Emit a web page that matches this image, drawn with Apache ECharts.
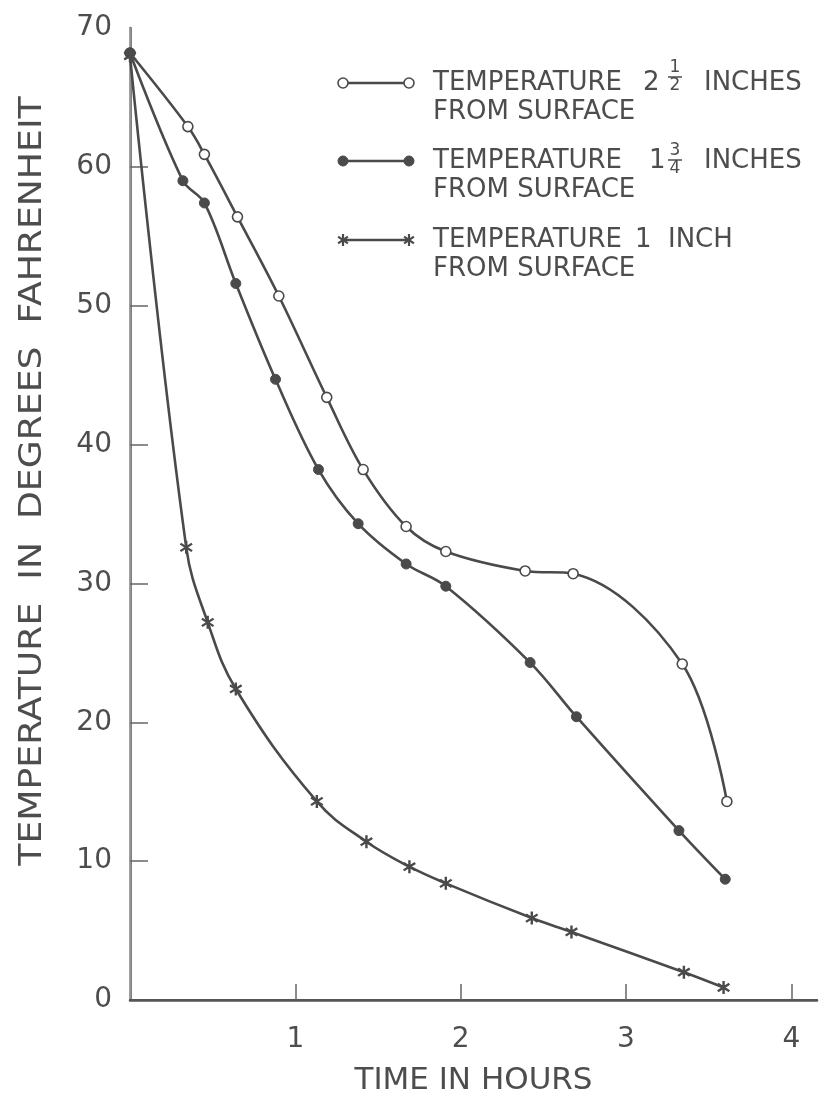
<!DOCTYPE html>
<html>
<head>
<meta charset="utf-8">
<script src="https://cdn.jsdelivr.net/npm/echarts@6/dist/echarts.min.js"></script>
<style>
html,body{margin:0;padding:0;background:#fff;}
#chart{width:819px;height:1101px;}
</style>
</head>
<body>
<div id="chart"></div>
<script>
// ---- data ----
const xTicks = [1, 2, 3, 4];
const yMin = 0, yMax = 70, yStep = 10;

// 2 1/2 inches from surface (open circles)
const timeA = [0, 0.35, 0.45, 0.65, 0.90, 1.19, 1.41, 1.67, 1.91, 2.39, 2.68, 3.34, 3.61];
const tempA = [68.2, 62.9, 60.9, 56.4, 50.7, 43.4, 38.2, 34.1, 32.3, 30.9, 30.7, 24.2, 14.3];

// 1 3/4 inches from surface (filled circles)
const timeB = [0, 0.32, 0.45, 0.64, 0.88, 1.14, 1.38, 1.67, 1.91, 2.42, 2.70, 3.32, 3.60];
const tempB = [68.2, 59.0, 57.4, 51.6, 44.7, 38.2, 34.3, 31.4, 29.8, 24.3, 20.4, 12.2, 8.7];

// 1 inch from surface (stars)
const timeC = [0, 0.34, 0.47, 0.64, 1.13, 1.43, 1.69, 1.91, 2.43, 2.67, 3.35, 3.59];
const tempC = [68.0, 32.6, 27.2, 22.4, 14.3, 11.4, 9.6, 8.4, 5.9, 4.9, 2.0, 0.9];

const xName = 'TIME IN HOURS';
const yName = 'TEMPERATURE  IN  DEGREES  FAHRENHEIT';
const legendMain = ['TEMPERATURE', 'TEMPERATURE', 'TEMPERATURE'];
const legendWhole = ['2', '1', '1'];
const legendNum = ['1', '3', ''];
const legendDen = ['2', '4', ''];
const legendTail = ['INCHES', 'INCHES', 'INCH'];
const legendSecond = ['FROM SURFACE', 'FROM SURFACE', 'FROM SURFACE'];

// ---- styling ----
const FONT = '"DejaVu Sans", sans-serif';
const INK = '#4a4a4a';
const TXT = '#4d4d4d';

function starPath() {
  // six-armed asterisk built from three thin bars
  const L = 10, W = 1.7;
  const angles = [90, 35, 145];
  let d = '';
  angles.forEach(a => {
    const r = a * Math.PI / 180;
    const c = Math.cos(r), s = Math.sin(r);
    const px = -s * W, py = c * W;
    const pts = [
      [ L * c + px,  L * s + py],
      [ L * c - px,  L * s - py],
      [-L * c - px, -L * s - py],
      [-L * c + px, -L * s + py]
    ];
    d += 'M' + pts.map(p => (p[0] + 10).toFixed(2) + ',' + (p[1] + 10).toFixed(2)).join('L') + 'Z';
  });
  return d;
}
const STAR = starPath();

const pair = (t, v) => t.map((x, i) => [x, v[i]]);

const chart = echarts.init(document.getElementById('chart'), null, {renderer: 'canvas'});

const xMax = 4.155;

// legend + y-axis title drawn with graphic elements
const legendY = [83, 161, 240];
const fracOff = [[-15, -6, 3], [-10, -1, 8]];
const wholeX = [643, 649, 635];
const tailX = [704, 704, 668];
const graphics = [];
function starLines(cx, cy, r) {
  [90, 35, 145].forEach(a => {
    const t = a * Math.PI / 180;
    graphics.push({type: 'line', shape: {x1: cx - r * Math.cos(t), y1: cy - r * Math.sin(t),
      x2: cx + r * Math.cos(t), y2: cy + r * Math.sin(t)}, style: {stroke: INK, lineWidth: 2.2}});
  });
}
legendY.forEach((y, i) => {
  graphics.push({type: 'line', shape: {x1: 343, y1: y, x2: 409, y2: y},
    style: {stroke: INK, lineWidth: 2.5}});
  [343, 409].forEach(x => {
    if (i === 0) graphics.push({type: 'circle', shape: {cx: x, cy: y, r: 5},
      style: {fill: '#fff', stroke: INK, lineWidth: 1.6}});
    else if (i === 1) graphics.push({type: 'circle', shape: {cx: x, cy: y, r: 5},
      style: {fill: INK, stroke: INK, lineWidth: 1}});
    else starLines(x, y, 6);
  });
  graphics.push({type: 'text', x: 433, y: y, style: {text: legendMain[i], font: '26px ' + FONT,
    fill: TXT, verticalAlign: 'middle', align: 'left'}});
  graphics.push({type: 'text', x: wholeX[i], y: y,
    style: {text: legendWhole[i], font: '26px ' + FONT, fill: TXT, verticalAlign: 'middle', align: 'left'}});
  if (legendNum[i]) {
    const o = fracOff[i];
    graphics.push({type: 'text', x: 675, y: y + o[0], style: {text: legendNum[i], font: '17px ' + FONT,
      fill: TXT, verticalAlign: 'middle', align: 'center'}});
    graphics.push({type: 'line', shape: {x1: 668, y1: y + o[1], x2: 682, y2: y + o[1]},
      style: {stroke: TXT, lineWidth: 1.5}});
    graphics.push({type: 'text', x: 675, y: y + o[2], style: {text: legendDen[i], font: '17px ' + FONT,
      fill: TXT, verticalAlign: 'middle', align: 'center'}});
  }
  graphics.push({type: 'text', x: tailX[i], y: y, style: {text: legendTail[i], font: '26px ' + FONT,
    fill: TXT, verticalAlign: 'middle', align: 'left'}});
  graphics.push({type: 'text', x: 433, y: y + 29, style: {text: legendSecond[i], font: '26px ' + FONT,
    fill: TXT, verticalAlign: 'middle', align: 'left'}});
});
graphics.push({type: 'text', x: 33, y: 481, rotation: Math.PI / 2, scaleX: 1.13,
  style: {text: yName, font: '32px ' + FONT, fill: TXT, align: 'center', verticalAlign: 'middle'}});

const lineCommon = {
  type: 'line',
  smooth: 0.35,
  lineStyle: {color: INK, width: 2.6},
  z: 3
};

const option = {
  backgroundColor: '#ffffff',
  animation: false,
  grid: {left: 130, right: 2, top: 28, bottom: 95, containLabel: false},
  xAxis: [{
    type: 'value', min: 0, max: xMax, interval: 1,
    axisLine: {show: true, lineStyle: {color: '#555', width: 2.5}},
    axisTick: {show: true, inside: true, length: 16, customValues: xTicks,
      lineStyle: {color: '#666', width: 1.5}},
    axisLabel: {customValues: xTicks, fontSize: 28, fontFamily: FONT, color: TXT, margin: 26},
    splitLine: {show: false},
    name: xName, nameLocation: 'middle', nameGap: 65,
    nameTextStyle: {fontSize: 31, fontFamily: FONT, color: TXT}
  }, {
    type: 'value', position: 'top', min: 0, max: xMax,
    axisLine: {show: true, lineStyle: {color: '#555', width: 2}},
    axisTick: {show: false}, axisLabel: {show: false}, splitLine: {show: false}
  }],
  yAxis: [{
    type: 'value', min: yMin, max: yMax, interval: yStep,
    axisLine: {show: true, lineStyle: {color: '#555', width: 2.5}},
    axisTick: {show: true, inside: true, length: 18, customValues: [10, 20, 30, 40, 50, 60],
      lineStyle: {color: '#666', width: 1.5}},
    axisLabel: {fontSize: 28, fontFamily: FONT, color: TXT, margin: 18},
    splitLine: {show: false}
  }, {
    type: 'value', position: 'right', min: yMin, max: yMax,
    axisLine: {show: true, lineStyle: {color: '#aaa', width: 1.5}},
    axisTick: {show: false}, axisLabel: {show: false}, splitLine: {show: false}
  }],
  series: [
    Object.assign({}, lineCommon, {
      name: 'TEMPERATURE 2 1/2 INCHES FROM SURFACE',
      data: pair(timeA, tempA),
      symbol: 'circle', symbolSize: 10,
      itemStyle: {color: '#fff', borderColor: INK, borderWidth: 1.6}
    }),
    Object.assign({}, lineCommon, {
      name: 'TEMPERATURE 1 3/4 INCHES FROM SURFACE',
      data: pair(timeB, tempB),
      symbol: 'circle', symbolSize: 10,
      itemStyle: {color: INK, borderColor: INK, borderWidth: 1}
    }),
    Object.assign({}, lineCommon, {
      name: 'TEMPERATURE 1 INCH FROM SURFACE',
      data: pair(timeC, tempC),
      smooth: 0.4,
      symbol: 'path://' + STAR, symbolSize: 13,
      itemStyle: {color: INK}
    })
  ],
  graphic: graphics
};

chart.setOption(option);
</script>
</body>
</html>
